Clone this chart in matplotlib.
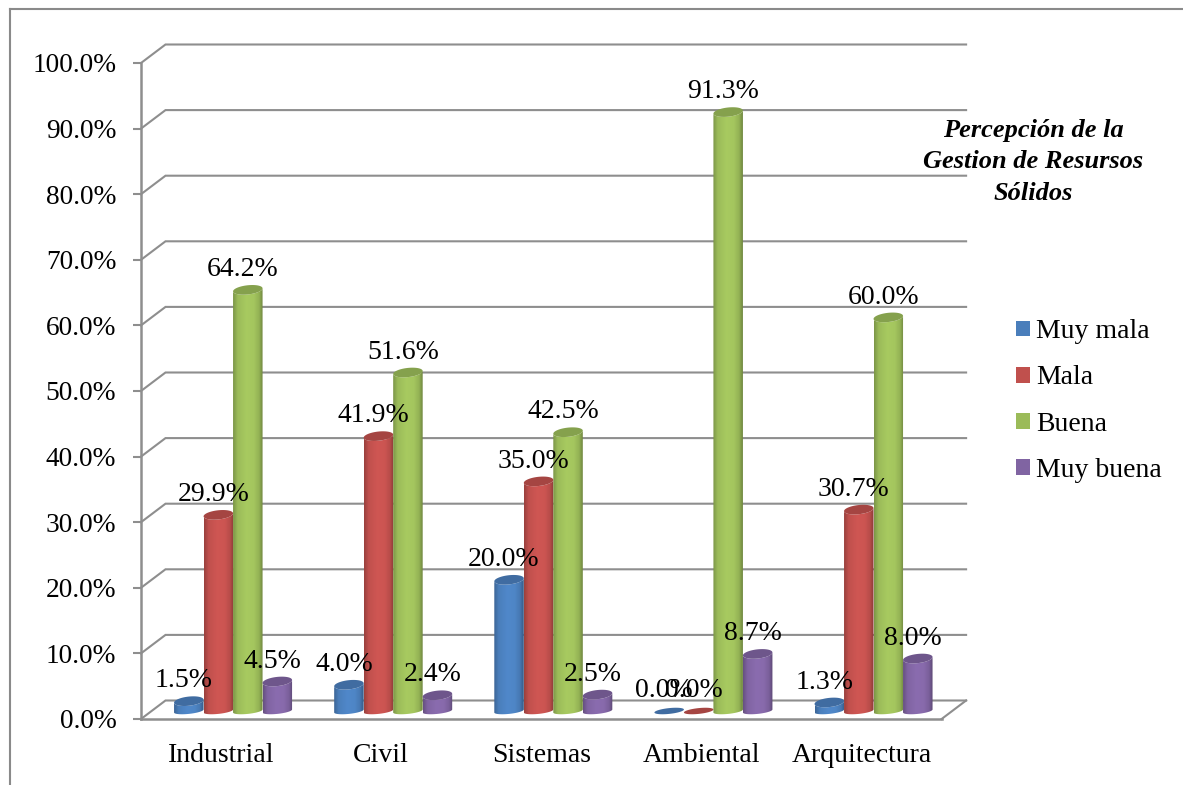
import numpy as np
import matplotlib
matplotlib.use('Agg')
import matplotlib.pyplot as plt
from matplotlib.colors import LinearSegmentedColormap, to_rgb
from matplotlib.lines import Line2D
from matplotlib.patches import Patch, Polygon

carreras = ['Industrial', 'Civil', 'Sistemas', 'Ambiental', 'Arquitectura']
muy_mala = [1.5, 4.0, 20.0, 0.0, 1.3]
mala = [29.9, 41.9, 35.0, 0.0, 30.7]
buena = [64.2, 51.6, 42.5, 91.3, 60.0]
muy_buena = [4.5, 2.4, 2.5, 8.7, 8.0]
series_names = ['Muy mala', 'Mala', 'Buena', 'Muy buena']
colores = ['#4a7ebb', '#c0504d', '#9bbb59', '#8064a2']
yticks = [0, 10, 20, 30, 40, 50, 60, 70, 80, 90, 100]
titulo = 'Percepción de la\nGestion de Resursos\nSólidos'

plt.rcParams['font.family'] = ['Liberation Serif', 'DejaVu Serif']
FS = 20
GRIS = '#8e8e8e'

W, H = 1183, 785
fig = plt.figure(figsize=(W / 100, H / 100), dpi=100)
ax = fig.add_axes([141 / W, 1 - 719 / H, 800.6 / W, 656 / H])
ax.set_facecolor('none')

# px to data units, everything below is in data coords
px_x = 5 / 800.6
px_y = 100 / 656
bar_w = 29.5 * px_x
a = bar_w / 2
b_top = 4.6 * px_y
b_base = 2.9 * px_y
k = 1.5 * px_y
depth_x = 12 * px_x
depth_y = 8 * px_y
wall_x = 24.5 * px_x
wall_y = 18.5 * px_y


def shade(color):
    # horizontal shading so the bar reads as a cylinder
    c = np.array(to_rgb(color))
    stops = [c * 0.8, c * 1.0, np.minimum(c * 1.08, 1), np.minimum(c * 1.06, 1), c * 0.95, c * 0.72]
    return LinearSegmentedColormap.from_list('cyl', [(0, stops[0]), (0.15, stops[1]), (0.45, stops[2]),
                                                     (0.7, stops[3]), (0.88, stops[4]), (1, stops[5])])


def cylinder(cx, val, color):
    y0 = depth_y
    y1 = val + depth_y
    b = b_base if val == 0 else b_top
    t = np.linspace(np.pi, 2 * np.pi, 40)
    ex = cx + a * np.cos(t)
    body = np.vstack([
        np.column_stack([ex, y0 + b_base * np.sin(t) + k * np.cos(t)]),
        np.column_stack([ex[::-1], y1 + (b * np.sin(t) + k * np.cos(t))[::-1]]),
    ])
    patch = Polygon(body, closed=True, fc='none', ec='none', zorder=3, clip_on=False)
    ax.add_patch(patch)
    grad = np.linspace(0, 1, 64).reshape(1, -1)
    im = ax.imshow(grad, cmap=shade(color), extent=[cx - a, cx + a, y0 - 2 * b_top, y1 + 2 * b_top],
                   aspect='auto', zorder=3, interpolation='bilinear')
    im.set_clip_path(patch)
    tt = np.linspace(0, 2 * np.pi, 60)
    top = np.column_stack([cx + a * np.cos(tt), y1 + b * np.sin(tt) + k * np.cos(tt)])
    ax.add_patch(Polygon(top, closed=True, fc=np.array(to_rgb(color)) * 0.86, ec='none', zorder=4, clip_on=False))


# back wall, side wall and floor
for v in yticks:
    ax.plot([0, wall_x, 5 + wall_x], [v, v + wall_y, v + wall_y], color=GRIS, lw=1.5, zorder=1,
            clip_on=False, solid_joinstyle='miter')
ax.plot([5, 5 + wall_x], [0, wall_y], color=GRIS, lw=1.5, zorder=1, clip_on=False)

x = np.arange(len(carreras)) + 0.5
valores = [muy_mala, mala, buena, muy_buena]
for i, (serie, color) in enumerate(zip(valores, colores)):
    centros = x + depth_x + (i - 1.5) * bar_w
    for cx, val in zip(centros, serie):
        cylinder(cx, val, color)
        ax.annotate(f'{val:.1f}%', (cx, val + depth_y), xytext=(-3.6, 14.6), textcoords='offset points',
                    ha='center', va='center', fontsize=FS, color='black', zorder=6, annotation_clip=False)

ax.set_xlim(0, 5)
ax.set_ylim(0, 100)
ax.set_xticks(x)
ax.set_xticklabels(carreras, fontsize=FS)
ax.set_yticks(yticks)
ax.set_yticklabels([f'{v:.1f}%' for v in yticks], fontsize=19.7)
ax.tick_params(axis='x', length=0, pad=17.5)
ax.tick_params(axis='y', length=5.8, width=1.5, color=GRIS, pad=12)
for s in ['top', 'right']:
    ax.spines[s].set_visible(False)
for s in ['left', 'bottom']:
    ax.spines[s].set_color(GRIS)
    ax.spines[s].set_linewidth(1.8)
    ax.spines[s].set_zorder(2)

handles = [Patch(fc=c, ec='none', label=n) for c, n in zip(colores, series_names)]
fig.legend(handles=handles, loc='center left', bbox_to_anchor=(1016 / W, 1 - 401 / H), frameon=False,
           fontsize=FS, handlelength=0.5, handleheight=0.5, handletextpad=0.22, labelspacing=0.76,
           borderpad=0, borderaxespad=0)

fig.text(1033 / W, 1 - 162 / H, titulo, ha='center', va='center', fontsize=19, fontweight='bold',
         fontstyle='italic', linespacing=1.46)

# outer chart frame, its right and bottom edges fall off the canvas
fig.add_artist(Line2D([9.5 / W, 9.5 / W], [0, 1 - 8.5 / H], color='#8a8a8a', lw=1.5))
fig.add_artist(Line2D([9.5 / W, 1], [1 - 8.5 / H, 1 - 8.5 / H], color='#8a8a8a', lw=1.5))

fig.savefig('out.png', dpi=100)
